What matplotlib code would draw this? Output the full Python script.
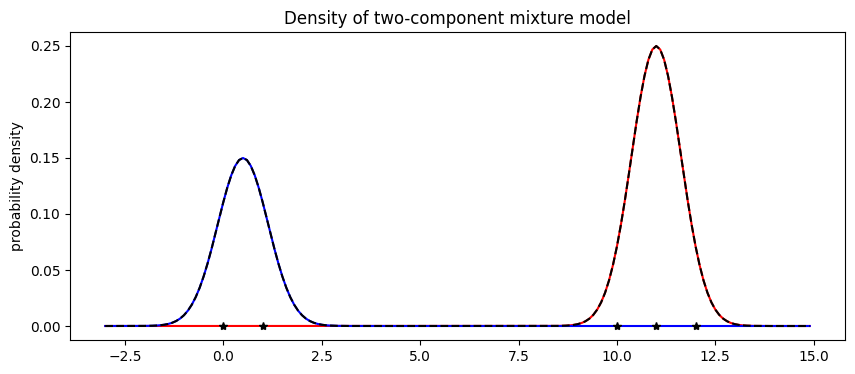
import numpy as np
import matplotlib
matplotlib.use("Agg")
import matplotlib.pyplot as plt

# Data points and mixture component parameters
data_points = [0, 1, 10, 11, 12]
means = [0.5, 11.0]
sigmas = [0.64, 0.63]
peak_heights = [0.15, 0.25]
x_start, x_stop, x_step = -3.0, 15.0, 0.1

weights = [p * s * np.sqrt(2 * np.pi) for p, s in zip(peak_heights, sigmas)]
x = np.arange(x_start, x_stop, x_step)

def gauss(x, m, s):
    return np.exp(-0.5 * ((x - m) / s) ** 2) / (s * np.sqrt(2 * np.pi))

comp1 = weights[0] * gauss(x, means[0], sigmas[0])
comp2 = weights[1] * gauss(x, means[1], sigmas[1])
mix = comp1 + comp2

fig = plt.figure(figsize=(8.55, 3.74), dpi=100)
ax = fig.add_axes([70 / 855, 1 - 340 / 374, (845 - 70) / 855, (340 - 32) / 374])
ax.plot(x, comp2, 'r-')
ax.plot(x, comp1, 'b-')
ax.plot(x, mix, 'k--')
ax.plot(data_points, np.zeros(len(data_points)), 'k*')
ax.set_title("Density of two-component mixture model")
ax.set_ylabel("probability density")
fig.savefig("out.png", dpi=100)
